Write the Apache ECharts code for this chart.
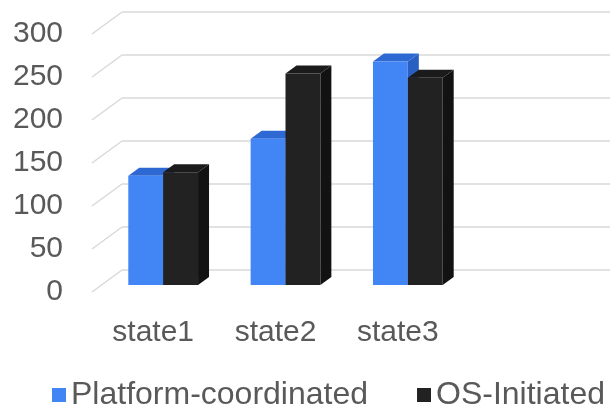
<!DOCTYPE html>
<html>
<head>
<meta charset="utf-8">
<script src="https://cdn.jsdelivr.net/npm/echarts@6/dist/echarts.min.js"></script>
<style>
  html, body { margin: 0; padding: 0; background: #fff; }
  #chart { width: 610px; height: 409px; }
</style>
</head>
<body>
<div id="chart"></div>
<script>
// data
var categories = ['state1', 'state2', 'state3'];
var platformValues = [127, 170, 260];
var osValues = [131, 246, 241];
var yTicks = [0, 50, 100, 150, 200, 250, 300];
var seriesNames = ['Platform-coordinated', 'OS-Initiated'];

var chart = echarts.init(document.getElementById('chart'));

var FONT = "'Liberation Sans', Arial, sans-serif";
var TEXT = '#595959';
var GRID_LINE = '#d9d9d9';

// 3d look: front face is pushed back a little, the box has a small depth
var faceShift = [10, -7];
var depth = [11, -8];
var wallDepth = [30, -22];

var faces = [
    { front: '#4285f4', side: '#2a5fc2', top: '#2e68d2' },
    { front: '#222222', side: '#121212', top: '#1b1b1b' }
];

function toRows(values) {
    return values.map(function (v, i) { return [i, v]; });
}

function renderBar(params, api) {
    var i = api.value(0), v = api.value(1);
    var top = api.coord([i, v]);
    var base = api.coord([i, 0]);
    var w = api.size([1, 0])[0] * 0.285;
    var x0 = top[0] + (params.seriesIndex === 0 ? -w : 0) + faceShift[0];
    var x1 = x0 + w;
    var yt = top[1] + faceShift[1];
    var yb = base[1] + faceShift[1];
    var c = faces[params.seriesIndex];
    return {
        type: 'group',
        children: [
            { type: 'polygon', shape: { points: [[x1, yt], [x1 + depth[0], yt + depth[1]], [x1 + depth[0], yb + depth[1]], [x1, yb]] },
              style: { fill: c.side } },
            { type: 'polygon', shape: { points: [[x0, yt], [x0 + depth[0], yt + depth[1]], [x1 + depth[0], yt + depth[1]], [x1, yt]] },
              style: { fill: c.top } },
            { type: 'rect', shape: { x: x0, y: yt, width: w, height: yb - yt },
              style: { fill: c.front } }
        ]
    };
}

function renderDiagonal(params, api) {
    var p = api.coord([0, api.value(1)]);
    return {
        type: 'line',
        shape: { x1: p[0] - wallDepth[0], y1: p[1] - wallDepth[1], x2: p[0], y2: p[1] },
        style: { stroke: GRID_LINE, lineWidth: 1.5 }
    };
}

var option = {
    animation: false,
    textStyle: { fontFamily: FONT },
    legend: {
        data: [
            { name: seriesNames[0], itemStyle: { color: faces[0].front } },
            { name: seriesNames[1], itemStyle: { color: faces[1].front } }
        ],
        icon: 'rect',
        itemWidth: 14,
        itemHeight: 14,
        itemGap: 49,
        padding: 0,
        left: 52,
        top: 379,
        width: 600,
        textStyle: { fontSize: 32, color: TEXT, fontFamily: FONT }
    },
    grid: [
        // front plane: axis labels and bars
        { left: 92, right: 151, top: 34, bottom: 117 },
        // back wall: gridlines
        { left: 122, right: 0, top: 12, bottom: 139 }
    ],
    xAxis: [
        {
            gridIndex: 0,
            type: 'category',
            data: categories,
            axisLine: { show: false },
            axisTick: { show: false },
            axisLabel: { fontSize: 30, color: TEXT, fontFamily: FONT, margin: 26 }
        },
        { gridIndex: 1, type: 'value', min: 0, max: 1, show: false }
    ],
    yAxis: [
        {
            gridIndex: 0,
            type: 'value',
            min: 0, max: 300, interval: 50,
            axisLine: { show: false },
            axisTick: { show: false },
            splitLine: { show: false },
            axisLabel: { fontSize: 30, color: TEXT, fontFamily: FONT, margin: 29 }
        },
        {
            gridIndex: 1,
            type: 'value',
            min: 0, max: 300, interval: 50,
            axisLine: { show: false },
            axisTick: { show: false },
            axisLabel: { show: false },
            splitLine: { lineStyle: { color: GRID_LINE, width: 1.5 } }
        }
    ],
    series: [
        {
            name: seriesNames[0],
            type: 'custom',
            xAxisIndex: 0, yAxisIndex: 0,
            itemStyle: { color: faces[0].front },
            renderItem: renderBar,
            encode: { x: 0, y: 1 },
            data: toRows(platformValues),
            z: 3
        },
        {
            name: seriesNames[1],
            type: 'custom',
            xAxisIndex: 0, yAxisIndex: 0,
            itemStyle: { color: faces[1].front },
            renderItem: renderBar,
            encode: { x: 0, y: 1 },
            data: toRows(osValues),
            z: 3
        },
        {
            name: 'wall',
            type: 'custom',
            xAxisIndex: 1, yAxisIndex: 1,
            renderItem: renderDiagonal,
            encode: { x: 0, y: 1 },
            data: yTicks.map(function (t) { return [0, t]; }),
            silent: true,
            z: 1
        }
    ]
};

chart.setOption(option);
</script>
</body>
</html>
